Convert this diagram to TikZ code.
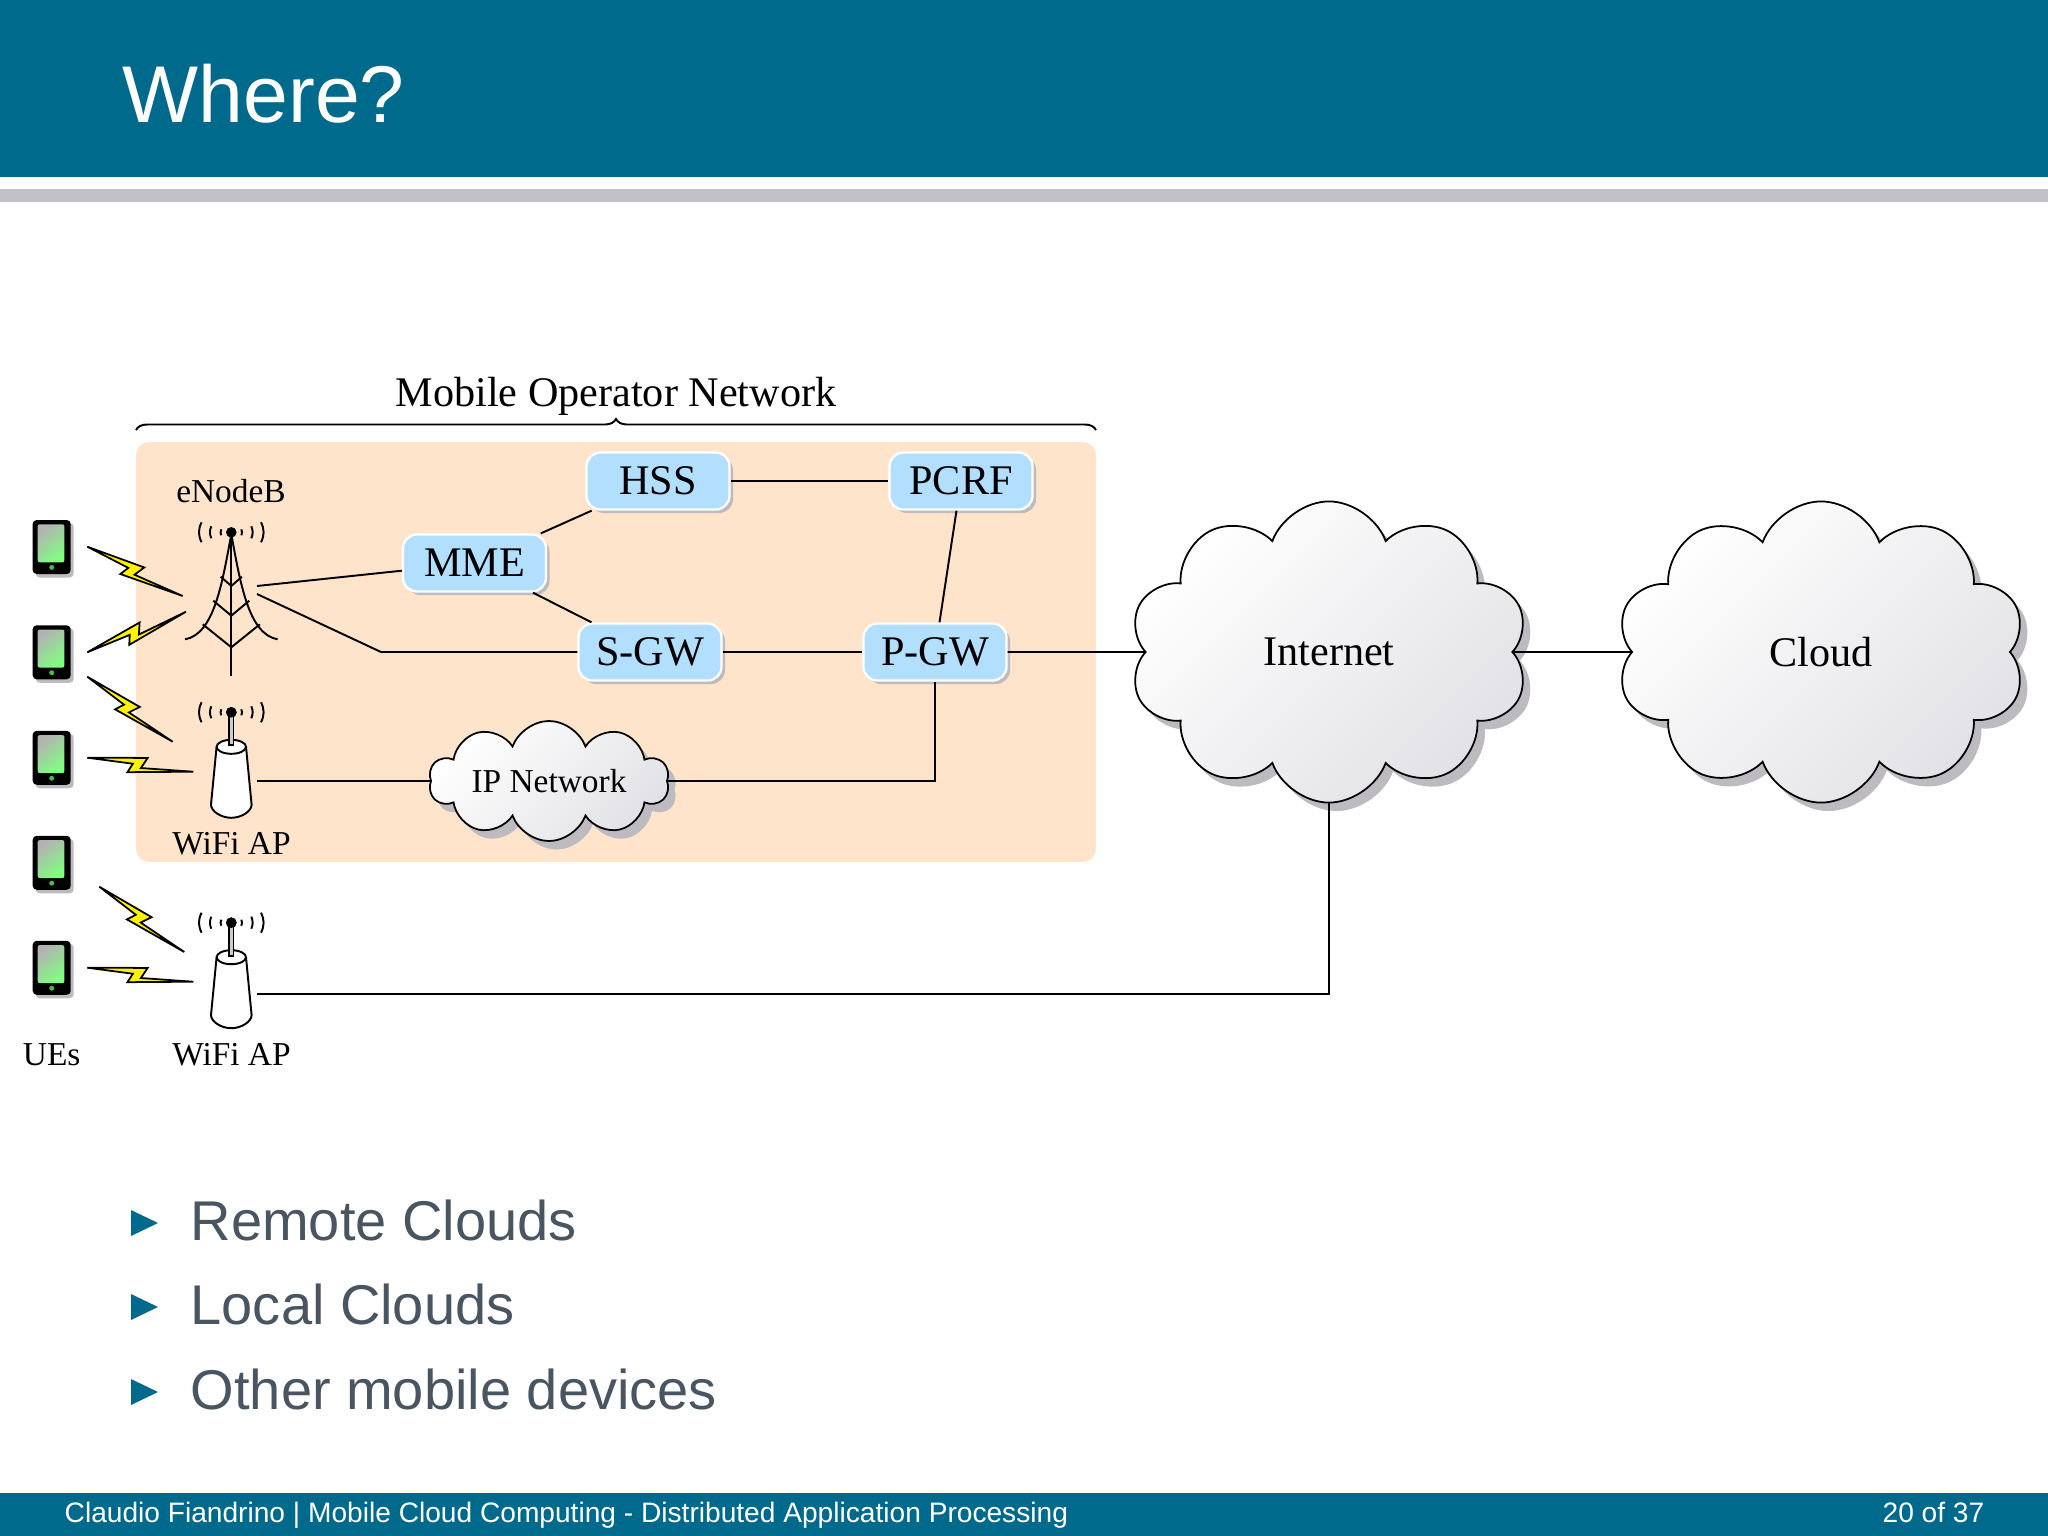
\documentclass[tikz,border=0pt]{standalone}
\usepackage{fontspec}
\setmainfont{Liberation Serif}
\newfontfamily\slidefont{Liberation Sans}
\usetikzlibrary{shapes.symbols,shadows,calc,decorations.pathreplacing}

\definecolor{barblue}{HTML}{006A8C}
\definecolor{bargray}{HTML}{C4C0CA}
\definecolor{opbg}{HTML}{FFE4CC}
\definecolor{blockblue}{HTML}{B3DFFF}
\definecolor{shadowgray}{HTML}{BDBBC0}
\definecolor{bodytext}{HTML}{4A5562}
\definecolor{cloudend}{HTML}{E2E2E6}

% lightning bolt between two points, in picture units
\newcommand{\boltline}[4]{%
  \pgfmathsetmacro{\dx}{#3-#1}\pgfmathsetmacro{\dy}{#4-#2}%
  \draw[bolt] (#1,#2)
    -- ({#1+.56*\dx+.072*\dy},{#2+.56*\dy-.072*\dx})
    -- ({#1+.51*\dx-.03*\dy},{#2+.51*\dy+.03*\dx})
    -- (#3,#4)
    -- ({#1+.39*\dx-.085*\dy},{#2+.39*\dy+.085*\dx})
    -- ({#1+.43*\dx},{#2+.43*\dy})
    -- cycle;}

\tikzset{
  wire/.style={line width=.55pt,black},
  devline/.style={line width=.55pt,black},
  bolt/.style={line width=.5pt,draw=black,fill=yellow,line join=miter,miter limit=3},
  big/.style={font=\fontsize{12}{14}\selectfont},
  small/.style={font=\fontsize{9.5}{11}\selectfont},
  block/.style={big,draw=white,line width=.65pt,fill=blockblue,rounded corners=.14cm,
    minimum width=1.43cm,minimum height=.57cm,inner sep=0pt,
    drop shadow={shadow xshift=.035cm,shadow yshift=-.035cm,fill=shadowgray,opacity=1}},
  netcloud/.style={cloud,cloud puffs=10,cloud puff arc=140,cloud ignores aspect,draw=black,
    line width=.5pt,inner sep=0pt,
    top color=white,bottom color=cloudend,shading angle=45,
    drop shadow={shadow xshift=.075cm,shadow yshift=-.085cm,fill=shadowgray,opacity=1}},
  signal/.pic={
    \fill (0,0) circle (5.3);
    \foreach \s in {-1,1}{
      \draw[devline] (\s*29.7,-10) .. controls (\s*33.2,-3) and (\s*33.2,3) .. (\s*29.7,10);
      \draw[devline] (\s*20,-6) .. controls (\s*21.8,-2) and (\s*21.8,2) .. (\s*20,6);
      \draw[devline] (\s*10,-3) .. controls (\s*11,-1) and (\s*11,1) .. (\s*10,3);
    }
  },
  ue/.pic={
    \fill[shadowgray,rounded corners=.04cm] (-16,-24) rectangle (22,30.5);
    \fill[black,rounded corners=.04cm] (-19,-27) rectangle (19,27);
    \shade[top color=black!30,bottom color=green!50,shading angle=40,rounded corners=.02cm]
      (-14,-22.7) rectangle (12.7,15.3);
    \fill[green!60!black!70] (0,20.4) circle (2.5);
  },
  tower/.pic={
    \pic at (0,0) {signal};
    \draw[devline] (0,0) -- (0,144);
    \foreach \s in {-1,1}{
      \draw[devline] (0,2) .. controls (\s*9,50) and (\s*17,102) .. (\s*46.3,107);
      \draw[devline] (\s*28.6,92) -- (0,115);
      \draw[devline] (\s*18,68.4) -- (0,83.4);
      \draw[devline] (\s*10.6,44.4) -- (0,53.7);
    }
  },
  wifiap/.pic={
    \pic at (0,0) {signal};
    \draw[devline,fill=white] (-14.7,34.5)
      -- (-20.3,92.3) .. controls (-20.3,99) and (-10,105.5) .. (0,105.5)
      .. controls (10,105.5) and (20.3,99) .. (20.3,92.3) -- (14.7,34.5);
    \draw[devline,fill=white] (0,34.5) ellipse (14.7 and 7);
    \draw[devline,fill=black!20] (-2.2,3) rectangle (2.2,33);
    \fill (0,0) circle (5.3);
  }
}

\begin{document}
\begin{tikzpicture}[x=.01cm,y=-.01cm]
\useasboundingbox (0,0) rectangle (2048,1536);

% slide frame
\fill[barblue] (0,0) rectangle (2048,177);
\fill[bargray] (0,189) rectangle (2048,202);
\fill[barblue] (0,1493) rectangle (2048,1536);
\node[anchor=base west,inner sep=0pt,text=white,font={\slidefont\fontsize{22.9}{26}\selectfont}]
  (title) at (122,122) {Where?};
\node[anchor=base west,inner sep=0pt,text=white,font={\slidefont\fontsize{8}{10}\selectfont}]
  (foot) at (64,1522) {Claudio Fiandrino | Mobile Cloud Computing - Distributed Application Processing};
\node[anchor=base east,inner sep=0pt,text=white,font={\slidefont\fontsize{8}{10}\selectfont}]
  (page) at (1985,1522) {20 of 37};

% bullets
\foreach \yy/\txt/\nm in {1240/Remote Clouds/itA,1324/Local Clouds/itB,1409/Other mobile devices/itC}{
  \fill[barblue] (131,\yy-30) -- (158,\yy-17) -- (131,\yy-4) -- cycle;
  \node[anchor=base west,inner sep=0pt,text=bodytext,font={\slidefont\fontsize{15.93}{19}\selectfont}]
    (\nm) at (190,\yy) {\txt};
}

% operator network
\fill[opbg,rounded corners=.13cm] (136,442) rectangle (1096,862);
\draw[wire,decorate,decoration={brace,amplitude=.11cm}] (136,430) -- (1096,430);
\node[big,inner sep=0pt] (mon) at (616,396) {Mobile Operator Network};

% blocks
\node[block] (hss) at (658,481) {HSS};
\node[block] (pcrf) at (961,481) {PCRF};
\node[block] (mme) at (474.5,563) {MME};
\node[block] (sgw) at (650,652) {S-GW};
\node[block] (pgw) at (935,652) {P-GW};

% clouds
\node[netcloud,big,minimum width=3.99cm,minimum height=3.01cm] (inet) at (1329,652) {Internet};
\node[netcloud,big,minimum width=4.09cm,minimum height=3.01cm] (cld) at (1821,652) {Cloud};
\node[netcloud,small,minimum width=2.40cm,minimum height=1.20cm] (ipn) at (549,781) {IP Network};

% radio side
\foreach \yy in {547,652.3,757.8,862.8,967.8}{
  \pic at (51.7,\yy) {ue};
}
\pic at (231.3,532.3) {tower};
\pic at (231.3,712.3) {wifiap};
\pic at (231.3,922.7) {wifiap};

\boltline{87.3}{546.7}{182.7}{596}
\boltline{87.3}{652.3}{186}{611.7}
\boltline{87.3}{676.7}{172.7}{741.7}
\boltline{87.3}{757.7}{193.3}{771.7}
\boltline{99.3}{886.7}{184.3}{952}
\boltline{87.3}{967.7}{193.3}{981.7}

\node[small,inner sep=0pt] (enbl) at (231,491.5) {eNodeB};
\node[small,inner sep=0pt] (apl1) at (231.5,844) {WiFi AP};
\node[small,inner sep=0pt] (apl2) at (231.5,1055) {WiFi AP};
\node[small,inner sep=0pt] (uel) at (51.7,1055) {UEs};

% free ends
\coordinate (enbA) at (257,586);
\coordinate (enbB) at (257,594);
\coordinate (elbow) at (381,652);
\coordinate (apA) at (257,781);
\coordinate (apB) at (257,994);

% connectors
\draw[wire] (enbA) -- (mme);
\draw[wire] (enbB) -- (elbow) -- (sgw);
\draw[wire] (mme) -- (hss);
\draw[wire] (mme) -- (sgw);
\draw[wire] (hss) -- (pcrf);
\draw[wire] (pcrf) -- (pgw);
\draw[wire] (sgw) -- (pgw);
\draw[wire] (pgw) -- (inet);
\draw[wire] (inet) -- (cld);
\draw[wire] (apA) -- (ipn);
\draw[wire] (ipn) -| (pgw);
\draw[wire] (inet.south) |- (apB);
\end{tikzpicture}
\end{document}
